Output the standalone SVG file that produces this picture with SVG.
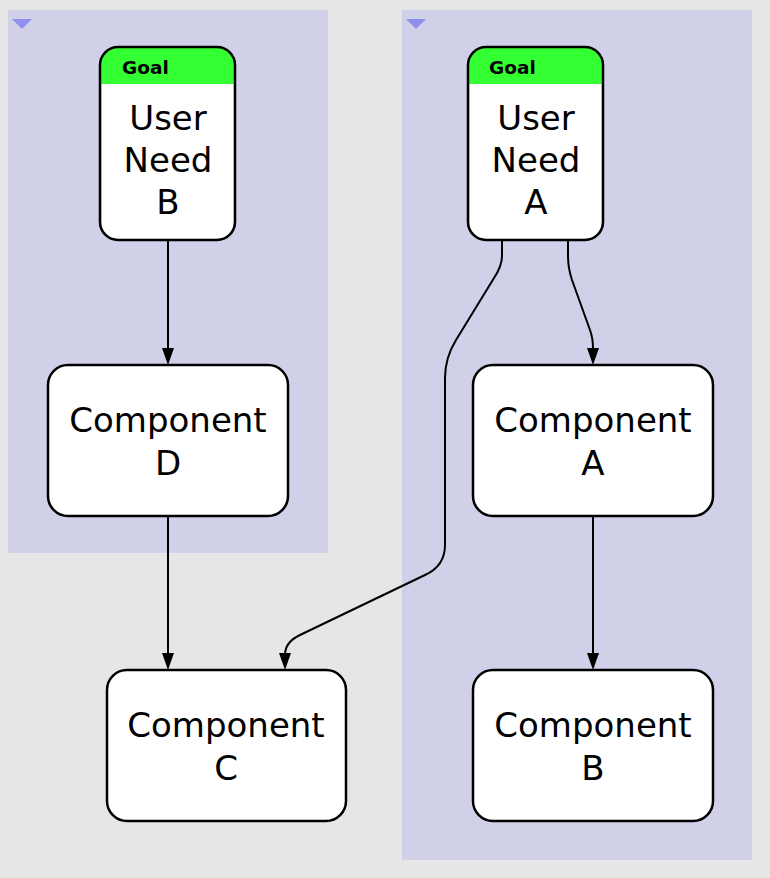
<svg xmlns="http://www.w3.org/2000/svg" width="770" height="878" viewBox="0 0 770 878">
<style>
.cluster{fill:#d0d0e8}
.tri{fill:#8f8fef}
.node{fill:#fff;stroke:#000;stroke-width:2.5}
.hdr{fill:#33ff33}
.goal{font-family:"DejaVu Sans",sans-serif;font-weight:bold;font-size:18.5px}
.lbl{font-family:"DejaVu Sans",sans-serif;font-size:34px;text-anchor:middle}
.edge{fill:none;stroke:#000;stroke-width:2}
</style>
<rect width="770" height="878" fill="#e6e6e6"/>
<g id="cluster-left">
<rect class="cluster" x="8" y="10" width="320" height="543"/>
<path class="tri" d="M12,19 L32,19 L22,29 Z"/>
</g>
<g id="cluster-right">
<rect class="cluster" x="402" y="10" width="350" height="850"/>
<path class="tri" d="M406,19 L426,19 L416,29 Z"/>
</g>
<g id="connectors">
<path class="edge" d="M168,240 L168,349"/>
<path d="M162,348 L174,348 L168,365 Z"/>
<path class="edge" d="M168,516 L168,654"/>
<path d="M162,653 L174,653 L168,670 Z"/>
<path class="edge" d="M593,516 L593,654"/>
<path d="M587,653 L599,653 L593,670 Z"/>
<path class="edge" d="M568,240 L568,256 Q568,268 572,280 L590,330 Q593,338 593,349"/>
<path d="M587,348 L599,348 L593,365 Z"/>
<path class="edge" d="M502,240 L502,256 Q502,266 494,278 L456,340 Q445,358 445,378 L445,545 Q445,566 425,575 L300,635 Q285,642 285,655"/>
<path d="M279,653 L291,653 L285,670 Z"/>
</g>
<g id="goal-b">
<path class="hdr" d="M100,84 L100,65 Q100,47 118,47 L217,47 Q235,47 235,65 L235,84 Z"/>
<rect x="101.5" y="84" width="132" height="138" fill="#fff"/>
<path d="M101.3,222 Q101.3,238.7 118,238.7 L217,238.7 Q233.7,238.7 233.7,222 Z" fill="#fff"/>
<rect class="node" x="100" y="47" width="135" height="193" rx="18" style="fill:none"/>
<text class="goal" x="122" y="74">Goal</text>
<text class="lbl" x="168" y="130">User</text>
<text class="lbl" x="168" y="172">Need</text>
<text class="lbl" x="168" y="214">B</text>
</g>
<g id="goal-a">
<path class="hdr" d="M468,84 L468,65 Q468,47 486,47 L585,47 Q603,47 603,65 L603,84 Z"/>
<rect x="469.5" y="84" width="132" height="138" fill="#fff"/>
<path d="M469.3,222 Q469.3,238.7 486,238.7 L585,238.7 Q601.7,238.7 601.7,222 Z" fill="#fff"/>
<rect class="node" x="468" y="47" width="135" height="193" rx="18" style="fill:none"/>
<text class="goal" x="489" y="74">Goal</text>
<text class="lbl" x="536" y="130">User</text>
<text class="lbl" x="536" y="172">Need</text>
<text class="lbl" x="536" y="214">A</text>
</g>
<g id="component-d">
<rect class="node" x="48" y="365" width="240" height="151" rx="20"/>
<text class="lbl" x="168" y="432">Component</text>
<text class="lbl" x="168" y="475">D</text>
</g>
<g id="component-a">
<rect class="node" x="473" y="365" width="240" height="151" rx="20"/>
<text class="lbl" x="593" y="432">Component</text>
<text class="lbl" x="593" y="475">A</text>
</g>
<g id="component-c">
<rect class="node" x="107" y="670" width="239" height="151" rx="20"/>
<text class="lbl" x="226" y="737">Component</text>
<text class="lbl" x="226" y="780">C</text>
</g>
<g id="component-b">
<rect class="node" x="473" y="670" width="240" height="151" rx="20"/>
<text class="lbl" x="593" y="737">Component</text>
<text class="lbl" x="593" y="780">B</text>
</g>
</svg>
